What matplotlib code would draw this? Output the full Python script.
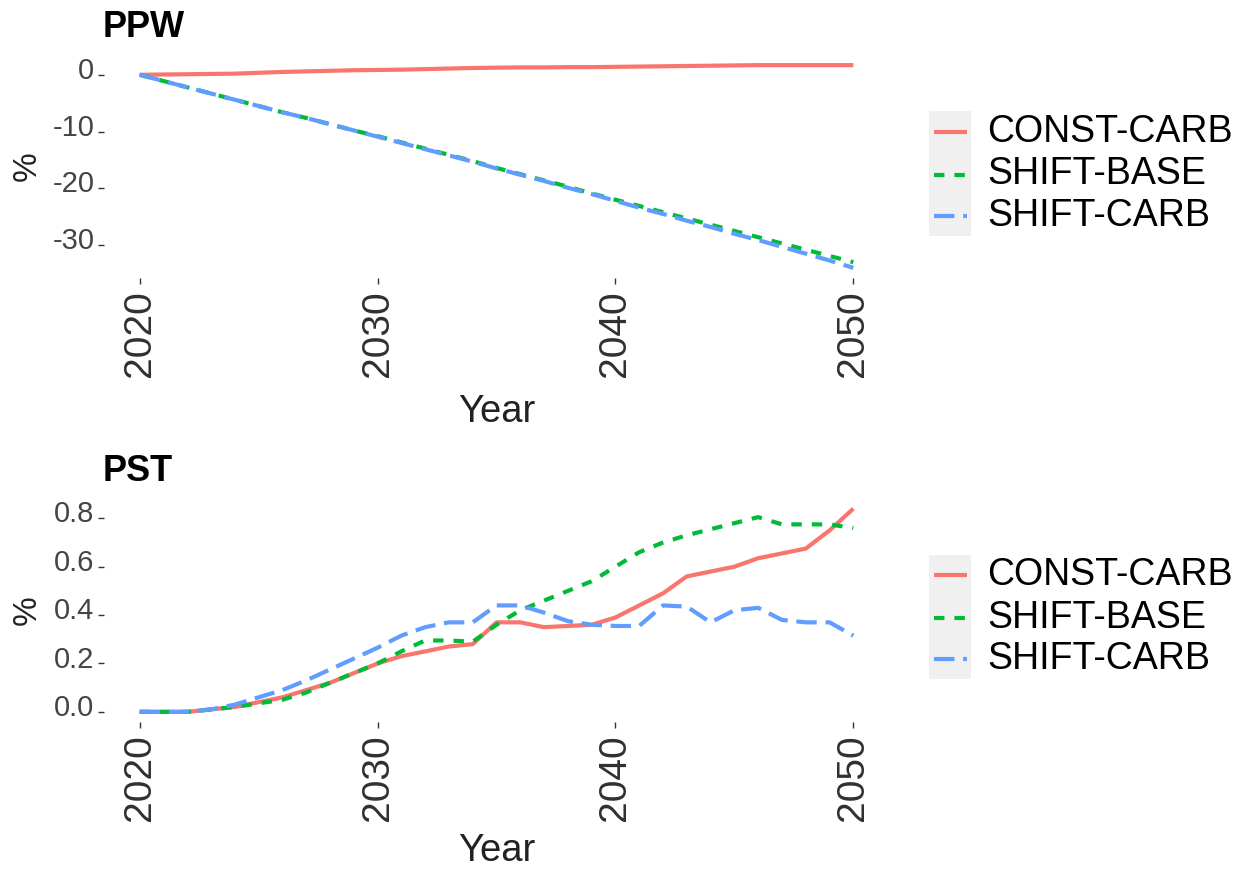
import matplotlib
matplotlib.use("Agg")
import matplotlib.pyplot as plt
from matplotlib.lines import Line2D
from matplotlib.patches import Rectangle
import matplotlib.transforms as mtransforms

plt.rcParams['font.family'] = ['Liberation Sans', 'DejaVu Sans']

years = list(range(2020, 2051))
series = ["CONST-CARB", "SHIFT-BASE", "SHIFT-CARB"]

# PPW (%)
ppw_const = [0, 0.05, 0.1, 0.15, 0.2, 0.35, 0.5, 0.6, 0.7, 0.8, 0.85, 0.9, 1.0, 1.1, 1.2,
             1.25, 1.3, 1.3, 1.35, 1.35, 1.4, 1.45, 1.5, 1.55, 1.6, 1.65, 1.7, 1.7, 1.7, 1.7, 1.7]
ppw_base = [0, -1.1, -2.2, -3.3, -4.4, -5.5, -6.6, -7.6, -8.7, -9.8, -10.8, -11.9, -13.0, -14.1,
            -15.2, -16.4, -17.5, -18.6, -19.7, -20.9, -22.0, -23.1, -24.2, -25.3, -26.4, -27.5,
            -28.6, -29.7, -30.8, -31.9, -33.0]
ppw_carb = [0, -1.1, -2.2, -3.3, -4.4, -5.5, -6.6, -7.6, -8.7, -9.8, -10.9, -12.0, -13.1, -14.2,
            -15.3, -16.5, -17.6, -18.7, -19.9, -21.0, -22.2, -23.4, -24.5, -25.7, -26.8, -28.0,
            -29.1, -30.3, -31.5, -32.7, -34.0]

# PST (%)
pst_const = [0, 0, 0, 0.01, 0.02, 0.04, 0.06, 0.09, 0.12, 0.16, 0.20, 0.23, 0.25, 0.27, 0.28,
             0.37, 0.37, 0.35, 0.355, 0.36, 0.39, 0.44, 0.49, 0.56, 0.58, 0.60, 0.635, 0.655,
             0.675, 0.75, 0.84]
pst_base = [0, 0, 0, 0.01, 0.02, 0.035, 0.05, 0.08, 0.12, 0.16, 0.2, 0.25, 0.295, 0.295, 0.29,
            0.36, 0.42, 0.46, 0.5, 0.54, 0.6, 0.66, 0.70, 0.73, 0.755, 0.78, 0.805, 0.775,
            0.775, 0.775, 0.76]
pst_carb = [0, 0, 0, 0.01, 0.03, 0.06, 0.09, 0.13, 0.175, 0.22, 0.265, 0.315, 0.35, 0.37, 0.37,
            0.44, 0.44, 0.41, 0.375, 0.36, 0.355, 0.355, 0.44, 0.435, 0.37, 0.42, 0.43, 0.38,
            0.37, 0.37, 0.315]

colors = ["#F8766D", "#00BA38", "#619CFF"]
dashes = [None, (2.5, 2.4), (4.9, 2.1)]
LW = 3.0

W, H = 1248, 869
fig = plt.figure(figsize=(W / 100, H / 100), dpi=100)


def fx(px):
    return px / W


def fy(py):
    return 1 - py / H


# title, data, y ticks, tick format, panel top/bottom (px), "Year" baseline (px)
panels = [
    ("PPW", [ppw_const, ppw_base, ppw_carb], [0, -10, -20, -30], "{:.0f}", 55, 278, 422),
    ("PST", [pst_const, pst_base, pst_carb], [0.0, 0.2, 0.4, 0.6, 0.8], "{:.1f}", 498.5, 722, 861),
]

for title, data, yt, fmt, top, bot, ybase in panels:
    ax = fig.add_axes([fx(104), fy(bot), fx(889) - fx(104), (bot - top) / H])
    for vals, c, d in zip(data, colors, dashes):
        ln, = ax.plot(years, vals, color=c, lw=LW, solid_capstyle='butt', dash_capstyle='butt')
        if d is not None:
            ln.set_dashes(d)
    ax.margins(x=0.05, y=0.05)
    for s in ax.spines.values():
        s.set_visible(False)
    ax.set_xticks([2020, 2030, 2040, 2050])
    ax.set_xticklabels(["2020", "2030", "2040", "2050"], rotation=90, fontsize=28, color="#303030")
    ax.set_yticks(yt)
    ax.set_yticklabels([fmt.format(v) for v in yt], fontsize=21, color="#444444")
    ax.tick_params(axis='x', length=4, width=1, color="#333333", pad=5)
    ax.tick_params(axis='y', length=4, width=1, color="#333333", pad=3)
    off = mtransforms.ScaledTranslation(0, 5 / 72, fig.dpi_scale_trans)
    for lbl in ax.get_yticklabels():
        lbl.set_transform(lbl.get_transform() + off)

    mid = (top + bot) / 2
    fig.text(fx(103), fy(top - 18), title, fontsize=26, fontweight='bold', va='baseline', ha='left')
    fig.text(fx(27.5), fy(mid), "%", fontsize=24, rotation=90, ha='center', va='center', color="#222222")
    fig.text(fx(496.5), fy(ybase), "Year", fontsize=27.5, ha='center', va='baseline', color="#222222")

    # legend
    ky = [mid - 35, mid + 8, mid + 49]
    fig.add_artist(Rectangle((fx(929), fy(ky[2] + 20)), fx(971) - fx(929), (ky[2] - ky[0] + 40) / H,
                             transform=fig.transFigure, facecolor="#F0F0F0", edgecolor='none'))
    for name, c, d, y in zip(series, colors, dashes, ky):
        ln = Line2D([fx(934), fx(967)], [fy(y), fy(y)], transform=fig.transFigure, color=c, lw=LW,
                    solid_capstyle='butt', dash_capstyle='butt')
        if d is not None:
            ln.set_dashes(d)
        fig.add_artist(ln)
        fig.text(fx(987), fy(y), name, fontsize=27, ha='left', va='center')

fig.savefig("out.png", dpi=100)
